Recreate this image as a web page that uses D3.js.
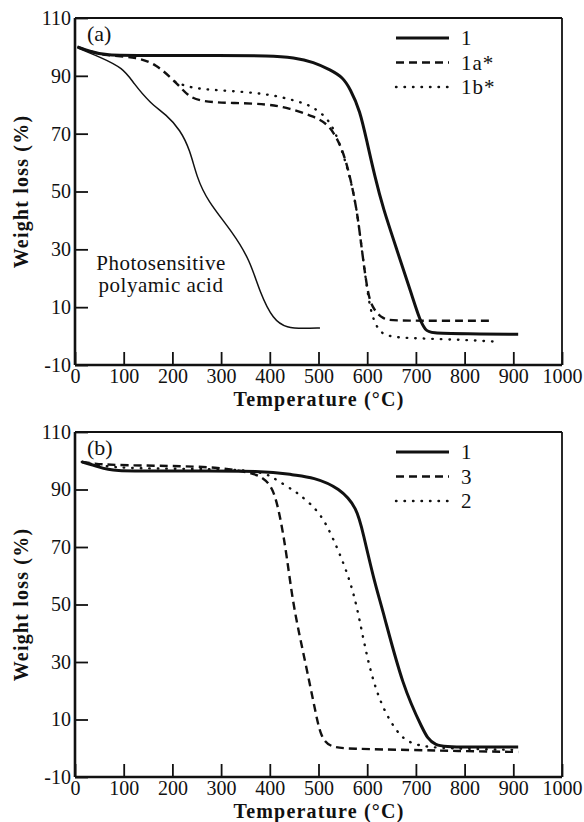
<!DOCTYPE html>
<html>
<head>
<meta charset="utf-8">
<script src="https://cdn.jsdelivr.net/npm/d3@7"></script>
<style>
  body { margin: 0; background: #fff; }
  text { font-family: "Liberation Serif", "Times New Roman", serif; fill: #111; }
</style>
</head>
<body>
<div id="container"></div>
<script>
// Panel (a) data
const tempA1 = [5, 30, 60, 150, 300, 400, 450, 490, 525, 550, 565, 585, 600, 616, 632, 661, 692, 708, 720, 729, 800, 910];
const lossA1 = [100, 98.5, 97, 97, 97, 97, 96.3, 94.8, 92, 89.5, 85.5, 78.2, 66.8, 55, 44.5, 29.8, 14, 5.5, 2, 1, 0.8, 0.6];

const tempA1a = [5, 30, 60, 130, 168, 195, 216, 230, 257, 325, 394, 441, 490, 524, 550, 565, 579, 589, 600, 609, 632, 660, 855];
const lossA1a = [100, 98.5, 97, 96.5, 93.7, 89.6, 86.2, 83.4, 81, 80.6, 80.3, 78.8, 76, 73, 64.4, 55, 43.6, 29.8, 16, 10, 5.6, 5.3, 5.3];

const tempA1b = [205, 236, 291, 394, 462, 489, 524, 545, 565, 579, 589, 600, 608, 620, 637, 700, 800, 873];
const lossA1b = [88, 85.8, 85, 84, 81, 79.3, 74.7, 66, 55, 43.6, 29.8, 16, 8, 2.8, -0.3, -0.8, -1.3, -2];

const tempPAA = [6, 51, 99, 120, 154, 188, 216, 236, 250, 271, 325, 359, 380, 407, 435, 470, 503];
const lossPAA = [99.6, 96.5, 92.7, 87.5, 80.6, 76.5, 71.3, 64.4, 55, 47, 35.6, 26.3, 14.9, 5.6, 2.8, 2.6, 2.8];

// Panel (b) data
const tempB1 = [14, 51, 72, 200, 394, 448, 489, 544, 579, 591, 616, 632, 673, 715, 733, 800, 910];
const lossB1 = [99.6, 97.8, 96.4, 96.4, 96.6, 95, 94.3, 90.5, 83.6, 75.2, 57, 48.1, 21.3, 6.3, 0.4, 0.4, 0.4];

const tempB3 = [14, 40, 72, 200, 291, 359, 386, 407, 421, 435, 448, 472, 493, 505, 524, 560, 694, 800, 910];
const lossB3 = [99.6, 99, 98.5, 98.2, 97.8, 96, 94.3, 90.5, 81, 67, 49.5, 30.7, 13.3, 3.6, 0.4, -0.2, -0.6, -1, -1.3];

const tempB2 = [14, 72, 200, 350, 394, 414, 448, 462, 503, 530, 559, 579, 600, 626, 661, 694, 800, 910];
const lossB2 = [99.6, 97.5, 97.2, 97, 95.5, 93.3, 89.8, 88.1, 82.2, 73.1, 61.3, 49.8, 30.7, 15.7, 5.3, 0.4, -0.2, -0.6];

const xTicks = d3.range(0, 1001, 100);
const yTicks = [-10, 10, 30, 50, 70, 90, 110];

const legendA = ["1", "1a*", "1b*"];
const legendB = ["1", "3", "2"];

const width = 584;
const height = 822;

const svg = d3.select("#container")
    .append("svg")
    .attr("width", width)
    .attr("height", height);

//Line styles
const styles = {
    solid: { w: 3, dash: null },
    dashed: { w: 2.4, dash: "8,5" },
    dotted: { w: 2.4, dash: "0.5,8" },
    thin: { w: 1.5, dash: null }
};

function drawPanel(cfg) {
    const x = d3.scaleLinear().domain([0, 1000]).range([75, 562]);
    const y = d3.scaleLinear().domain([-10, 110]).range([cfg.bottom, cfg.top]);
    const g = svg.append("g");

    //Ticks inside the frame
    const xAxis = g.append("g")
        .attr("transform", `translate(0,${cfg.bottom})`)
        .call(d3.axisBottom(x).tickValues(xTicks).tickFormat(d => String(d))
            .tickSize(-13).tickSizeOuter(0).tickPadding(4));
    const yAxis = g.append("g")
        .attr("transform", "translate(75,0)")
        .call(d3.axisLeft(y).tickValues(yTicks).tickFormat(d => String(d))
            .tickSize(-13).tickSizeOuter(0).tickPadding(4));
    [xAxis, yAxis].forEach(a => {
        a.select(".domain").remove();
        a.selectAll("line").attr("stroke", "#111").attr("stroke-width", 1.8);
        a.selectAll("text")
            .style("font-family", "'Liberation Serif', serif")
            .style("font-size", "20px")
            .attr("fill", "#111");
    });
    xAxis.selectAll("text").attr("dy", "0.7em");

    //Frame
    g.append("line").attr("x1", 75).attr("x2", 75).attr("y1", cfg.top).attr("y2", cfg.bottom)
        .attr("stroke", "#111").attr("stroke-width", 2.6);
    g.append("line").attr("x1", 75).attr("x2", 562).attr("y1", cfg.bottom).attr("y2", cfg.bottom)
        .attr("stroke", "#111").attr("stroke-width", 2.6);
    g.append("line").attr("x1", 75).attr("x2", 562).attr("y1", cfg.top).attr("y2", cfg.top)
        .attr("stroke", "#111").attr("stroke-width", 1.8);
    g.append("line").attr("x1", 562).attr("x2", 562).attr("y1", cfg.top).attr("y2", cfg.bottom)
        .attr("stroke", "#111").attr("stroke-width", 1.8);

    //Curves
    const line = d3.line()
        .x(d => x(d[0]))
        .y(d => y(d[1]))
        .curve(d3.curveBasis);

    cfg.series.forEach(s => {
        const st = styles[s.style];
        g.append("path")
            .datum(d3.zip(s.t, s.v))
            .attr("fill", "none")
            .attr("stroke", "#111")
            .attr("stroke-width", st.w)
            .attr("stroke-linecap", s.style === "dotted" ? "round" : "butt")
            .attr("stroke-dasharray", st.dash)
            .attr("d", line);
    });

    //Legend
    const legend = g.append("g");
    cfg.legend.forEach((name, i) => {
        const st = styles[cfg.series[i].style];
        const ly = cfg.top + 20 + i * 24.5;
        legend.append("line")
            .attr("x1", 396).attr("x2", 449)
            .attr("y1", ly).attr("y2", ly)
            .attr("stroke", "#111")
            .attr("stroke-width", st.w)
            .attr("stroke-linecap", cfg.series[i].style === "dotted" ? "round" : "butt")
            .attr("stroke-dasharray", st.dash);
        legend.append("text")
            .attr("x", 461).attr("y", ly + 7)
            .style("font-size", "21px")
            .style("letter-spacing", "1px")
            .text(name);
    });

    //Panel label
    g.append("text")
        .attr("x", 87).attr("y", cfg.top + 23)
        .style("font-size", "22px")
        .text(cfg.label);

    //Axis titles
    g.append("text")
        .attr("x", 319).attr("y", cfg.bottom + 41)
        .attr("text-anchor", "middle")
        .style("font-size", "20px")
        .style("font-weight", "bold")
        .style("letter-spacing", "1.2px")
        .text("Temperature (°C)");
    g.append("text")
        .attr("transform", `translate(28,${(cfg.top + cfg.bottom) / 2}) rotate(-90)`)
        .attr("text-anchor", "middle")
        .style("font-size", "20px")
        .style("font-weight", "bold")
        .style("letter-spacing", "1.2px")
        .text("Weight loss (%)");

    return g;
}

const panelA = drawPanel({
    top: 18, bottom: 365, label: "(a)",
    series: [
        { t: tempA1, v: lossA1, style: "solid" },
        { t: tempA1a, v: lossA1a, style: "dashed" },
        { t: tempA1b, v: lossA1b, style: "dotted" },
        { t: tempPAA, v: lossPAA, style: "thin" }
    ],
    legend: legendA
});

//Annotation for the polyamic acid curve
panelA.append("text")
    .attr("x", 161).attr("y", 270)
    .attr("text-anchor", "middle")
    .style("font-size", "21px")
    .style("letter-spacing", "0.5px")
    .text("Photosensitive");
panelA.append("text")
    .attr("x", 161).attr("y", 292)
    .attr("text-anchor", "middle")
    .style("font-size", "21px")
    .style("letter-spacing", "0.5px")
    .text("polyamic acid");

drawPanel({
    top: 432, bottom: 777, label: "(b)",
    series: [
        { t: tempB1, v: lossB1, style: "solid" },
        { t: tempB3, v: lossB3, style: "dashed" },
        { t: tempB2, v: lossB2, style: "dotted" }
    ],
    legend: legendB
});
</script>
</body>
</html>
